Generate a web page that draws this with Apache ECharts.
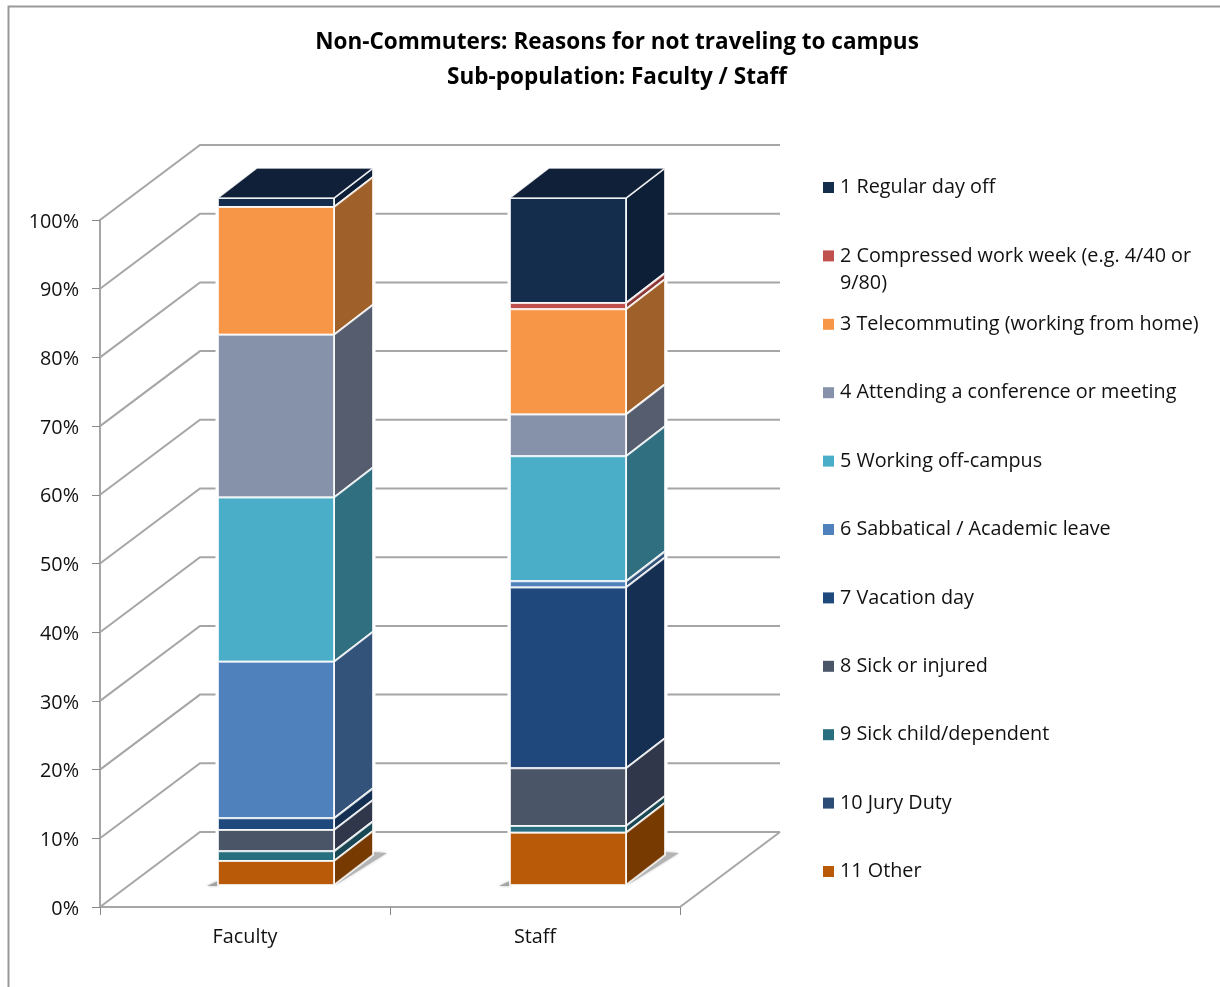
<!DOCTYPE html>
<html><head><meta charset="utf-8">
<style>html,body{margin:0;padding:0;background:#fff}#c{width:1220px;height:987px}</style>
<script src="https://cdn.jsdelivr.net/npm/echarts@6/dist/echarts.min.js"></script>
</head><body><div id="c"></div>
<script>
const categories = ['Faculty', 'Staff'];
const reasons = [
  '1 Regular day off',
  '2 Compressed work week (e.g. 4/40 or 9/80)',
  '3 Telecommuting (working from home)',
  '4 Attending a conference or meeting',
  '5 Working off-campus',
  '6 Sabbatical / Academic leave',
  '7 Vacation day',
  '8 Sick or injured',
  '9 Sick child/dependent',
  '10 Jury Duty',
  '11 Other'
];
const faculty = [1.3, 0, 18.6, 23.7, 23.9, 22.8, 1.7, 3.1, 1.4, 0, 3.5];
const staff = [15.3, 0.9, 15.3, 6.1, 18.2, 0.9, 26.3, 8.4, 1.0, 0, 7.6];
const frontColors = ['#142d4c','#c0504d','#f79646','#8691aa','#4aaec8','#4f81bd','#1f497d','#4a5568','#276e7f','#2c4d75','#b85a08'];
const sideColors  = ['#0d1f36','#8c3836','#a0602a','#565d6e','#306f80','#33537a','#142f51','#30374a','#194753','#1c3250','#773b02'];
const topColor = '#0f2038';
const yTicks = [0,10,20,30,40,50,60,70,80,90,100];
const wrapFrom = '2 Compressed work week (e.g. 4/40 or';
const wrapRest = '9/80)';
const FONT = '"Open Sans"';
const WALL = {dx:100, dy:75}, BAR = {ox:[31,33], oy:22, dx:39, dy:30, share:0.4};
const GREY = '#a6a6a6';
const series2 = [faculty, staff];

function lineEl(pts, w){
  return {type:'polyline', shape:{points:pts}, style:{stroke:GREY, lineWidth:w||2, fill:null}, silent:true};
}
function renderWall(params, api){
  const cs = params.coordSys, v = api.value(0), p = api.coord([0, v]);
  const x0 = cs.x, x1 = cs.x + cs.width, y = p[1];
  const kids = [lineEl([[x0,y],[x0+WALL.dx,y-WALL.dy],[x1+WALL.dx,y-WALL.dy]])];
  if (v === 0) kids.push(lineEl([[x1+WALL.dx,y-WALL.dy],[x1,y]]));
  return {type:'group', children:kids};
}
function barBox(api, c, lo, hi){
  const a = api.coord([c, lo]), b = api.coord([c, hi]);
  const half = api.size([1,0])[0]*BAR.share/2;
  return {l:a[0]+BAR.ox[c]-half, r:a[0]+BAR.ox[c]+half, yb:a[1]-BAR.oy, yt:b[1]-BAR.oy};
}
function renderBacking(params, api){
  const q = barBox(api, api.value(0), 0, api.value(1));
  return {type:'group', children:[
    {type:'polygon', shape:{points:[[q.l,q.yt],[q.l+BAR.dx,q.yt-BAR.dy],[q.r+BAR.dx,q.yt-BAR.dy],[q.r+BAR.dx,q.yb-BAR.dy],[q.r,q.yb],[q.l,q.yb]]},
      style:{fill:'#fff', stroke:'#fff', lineWidth:5}, silent:true},
    {type:'polygon', shape:{points:[[q.l-11,q.yb+1],[q.l,q.yb-4],[q.l,q.yb+1]]},
      style:{fill:'#a4a4a4', shadowBlur:3, shadowColor:'#bbb'}, silent:true},
    {type:'polygon', shape:{points:[[q.r,q.yb+1],[q.r+BAR.dx+14,q.yb-BAR.dy-2],[q.r+BAR.dx,q.yb-BAR.dy-3]]},
      style:{fill:'#b4b4b4', shadowBlur:3, shadowColor:'#ccc'}, silent:true}
  ]};
}
function makeRenderer(i){
  return function(params, api){
    const c = api.value(0), v = api.value(1), base = api.value(2);
    if (!v) return null;
    const q = barBox(api, c, base, base+v);
    const edge = {stroke:'rgba(255,255,255,0.82)', lineWidth:2, lineJoin:'round'};
    const kids = [
      {type:'polygon', shape:{points:[[q.r,q.yb],[q.r+BAR.dx,q.yb-BAR.dy],[q.r+BAR.dx,q.yt-BAR.dy],[q.r,q.yt]]},
        style:Object.assign({fill:sideColors[i]}, edge), silent:true},
      {type:'rect', shape:{x:q.l, y:q.yt, width:q.r-q.l, height:q.yb-q.yt},
        style:Object.assign({fill:frontColors[i]}, edge), silent:true}
    ];
    if (series2[c].slice(0,i).every(function(x){return x===0;})) {
      kids.push({type:'polygon', shape:{points:[[q.l,q.yt],[q.l+BAR.dx,q.yt-BAR.dy],[q.r+BAR.dx,q.yt-BAR.dy],[q.r,q.yt]]},
        style:{fill:topColor, stroke:'rgba(255,255,255,0.82)', lineWidth:1.5}, silent:true});
    }
    return {type:'group', children:kids};
  };
}
const sum = function(a){return a.reduce(function(s,x){return s+x;},0);};
const seriesList = [
  {type:'custom', name:'walls', coordinateSystem:'cartesian2d', silent:true, z:1,
    data:yTicks.map(function(t){return [t];}), encode:{y:0}, renderItem:renderWall},
  {type:'custom', name:'backing', coordinateSystem:'cartesian2d', silent:true, z:2,
    data:categories.map(function(n,c){return [c, sum(series2[c])];}), encode:{x:0,y:1}, renderItem:renderBacking}
].concat(reasons.map(function(name,i){
  return {type:'custom', name:name, coordinateSystem:'cartesian2d', silent:true, z:3,
    itemStyle:{color:frontColors[i]},
    data:categories.map(function(n,c){return [c, series2[c][i], sum(series2[c].slice(i+1))];}),
    encode:{x:0,y:1}, renderItem:makeRenderer(i)};
}));

const chart = echarts.init(document.getElementById('c'), null, {renderer:'canvas'});
chart.setOption({
  animation:false,
  backgroundColor:'#fff',
  textStyle:{fontFamily:FONT},
  title:{text:'Non-Commuters: Reasons for not traveling to campus\nSub-population: Faculty / Staff',
    left:617, top:25, padding:0, textAlign:'center',
    textStyle:{fontFamily:FONT, fontSize:22.5, fontWeight:'bold', color:'#000', lineHeight:35}},
  grid:{left:100, right:540, top:220, bottom:80, containLabel:false},
  xAxis:{type:'category', data:categories, boundaryGap:true,
    axisLine:{lineStyle:{color:GREY,width:2}}, axisTick:{show:true,length:8,alignWithLabel:false,lineStyle:{color:'#888',width:1}},
    axisLabel:{fontFamily:FONT,fontSize:19.8,color:'#111',margin:20}},
  yAxis:{type:'value', min:0, max:100, interval:10,
    axisLine:{show:true,lineStyle:{color:GREY,width:2}}, axisTick:{show:true,length:8,lineStyle:{color:'#888',width:1}},
    splitLine:{show:false},
    axisLabel:{formatter:'{value}%',fontFamily:FONT,fontSize:19.8,color:'#111',margin:21,verticalAlign:'top',lineHeight:4,height:4}},
  legend:{orient:'vertical', left:823, top:175.5, padding:0, data:reasons, icon:'rect', itemWidth:11, itemHeight:11, itemGap:44.4,
    selectedMode:false,
    formatter:function(n){return n.indexOf(wrapFrom)===0 ? wrapFrom : n;},
    textStyle:{fontFamily:FONT,fontSize:19.8,color:'#111',lineHeight:24,height:24,padding:[0,0,0,1]}},
  graphic:[
    {type:'polyline', shape:{points:[[8.5,987],[8.5,6.5],[1220,6.5]]}, style:{fill:null,stroke:'#999',lineWidth:2}, silent:true, z:-1},
    {type:'text', left:840, top:273, style:{text:wrapRest, fontFamily:FONT, fontSize:19.8, fill:'#111'}, silent:true}
  ],
  series:seriesList
});
</script></body></html>
